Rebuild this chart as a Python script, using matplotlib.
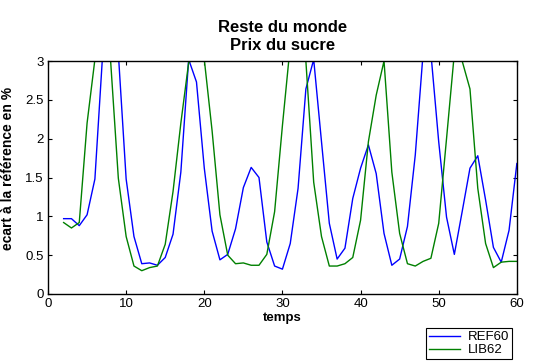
import numpy as np
import matplotlib
matplotlib.use("Agg")
import matplotlib.pyplot as plt

plt.rcParams['font.family'] = ['Liberation Sans', 'DejaVu Sans']

# time steps 2..60
temps = list(range(2, 61))

ref60 = [0.97, 0.97, 0.88, 1.02, 1.48, 3.10, 3.40, 3.10, 1.48, 0.74,
         0.39, 0.40, 0.37, 0.47, 0.77, 1.57, 3.02, 2.73, 1.62, 0.81,
         0.44, 0.51, 0.84, 1.37, 1.63, 1.50, 0.67, 0.36, 0.32, 0.65,
         1.36, 2.64, 3.02, 1.96, 0.91, 0.45, 0.59, 1.23, 1.62, 1.92,
         1.55, 0.78, 0.37, 0.45, 0.87, 1.79, 3.10, 3.10, 1.96, 0.99,
         0.51, 1.06, 1.62, 1.78, 1.21, 0.60, 0.41, 0.82, 1.68]

lib62 = [0.92, 0.85, 0.92, 2.20, 3.02, 3.30, 3.02, 1.49, 0.74, 0.36,
         0.30, 0.34, 0.36, 0.64, 1.32, 2.20, 2.98, 3.05, 3.02, 2.10,
         1.02, 0.50, 0.39, 0.40, 0.37, 0.37, 0.51, 1.06, 2.17, 3.20,
         3.40, 3.00, 1.44, 0.74, 0.36, 0.36, 0.39, 0.47, 0.95, 1.96,
         2.56, 3.00, 1.57, 0.78, 0.39, 0.36, 0.42, 0.46, 0.91, 2.00,
         3.10, 3.00, 2.64, 1.36, 0.65, 0.34, 0.41, 0.42, 0.42]

xticks = [0, 10, 20, 30, 40, 50, 60]
yticks = [0, 0.5, 1, 1.5, 2, 2.5, 3]
ytick_labels = ['0', '0.5', '1', '1.5', '2', '2.5', '3']

fig = plt.figure(figsize=(5.34, 3.61), dpi=100)
ax = fig.add_axes([0.0899, 0.1856, 0.878, 0.6454])

ax.plot(temps, ref60, color='#0000ff', lw=1.0, label='REF60')
ax.plot(temps, lib62, color='#008000', lw=1.0, label='LIB62')

ax.set_xlim(0, 60)
ax.set_ylim(0, 3)
ax.set_xticks(xticks)
ax.set_yticks(yticks)
ax.set_yticklabels(ytick_labels)
ax.tick_params(direction='in', top=True, right=True, length=3,
               labelsize=9.5, width=0.8, pad=3)
for s in ax.spines.values():
    s.set_linewidth(1.0)

ax.set_title('Reste du monde\nPrix du sucre', fontsize=12, fontweight='bold',
             pad=8, linespacing=1.2)
ax.set_xlabel('temps', fontsize=9.5, fontweight='bold', labelpad=1)
ax.set_ylabel('ecart à la référence en %', fontsize=10, fontweight='bold')
ax.yaxis.set_label_coords(-0.070, 0.54)

leg = ax.legend(loc='lower right', bbox_to_anchor=(0.959, 0.006),
                bbox_transform=fig.transFigure, fontsize=9.5, fancybox=False,
                edgecolor='black', framealpha=1, borderaxespad=0,
                handlelength=2.4, handletextpad=0.6, borderpad=0.2,
                labelspacing=0.05)
leg.get_frame().set_linewidth(0.8)

fig.savefig('out.png', dpi=100)
